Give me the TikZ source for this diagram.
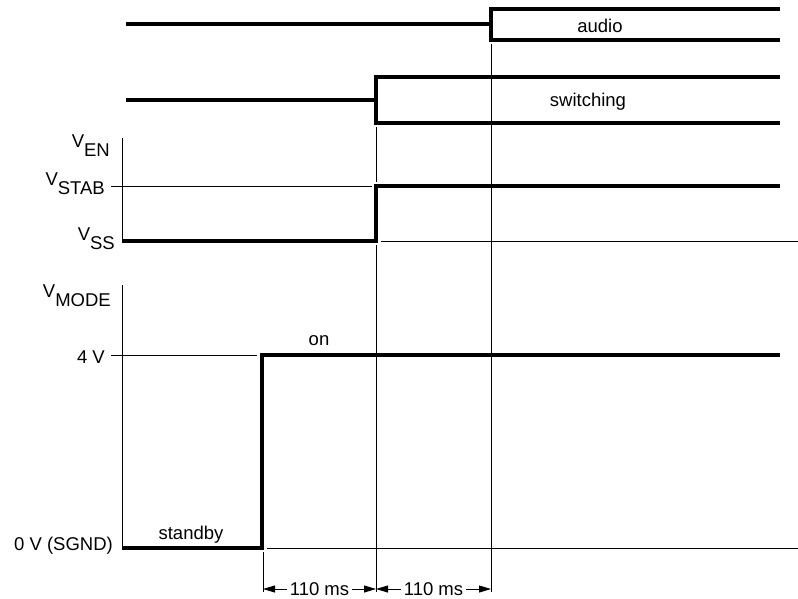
\documentclass[tikz,border=0pt]{standalone}
\usepackage{fontspec}
\setmainfont{Liberation Sans}
\usetikzlibrary{arrows.meta}
\tikzset{
  sig/.style={line width=3.2pt, line join=miter},
  hair/.style={line width=0.9pt},
  lbl/.style={inner sep=0pt, font=\fontsize{18.5}{22}\selectfont},
  dim/.style={line width=0.9pt, {Triangle[length=12pt,width=7pt]}-{Triangle[length=12pt,width=7pt]}},
}
\newcommand{\sub}[2]{#1\raisebox{-9pt}{#2}}
\begin{document}
\begin{tikzpicture}[x=1pt,y=-1pt]
\useasboundingbox (0,0) rectangle (798,598);
% audio
\draw[sig] (126,24) -- (491,24);
\draw[sig] (780,9) -- (491,9) -- (491,40) -- (780,40);
\node[lbl, anchor=base] (audio) at (600,32) {audio};
% switching
\draw[sig] (126,100) -- (376,100);
\draw[sig] (780,77) -- (376,77) -- (376,123) -- (780,123);
\node[lbl, anchor=base] (switching) at (588,106) {switching};
% time markers
\draw[hair] (491,44) -- (491,592);
\draw[hair] (376,127) -- (376,182);
\draw[hair] (376,245) -- (376,592);
\draw[hair] (263,552) -- (263,592);
% V_EN
\draw[hair] (122,138) -- (122,241);
\draw[hair] (111,186) -- (372,186);
\draw[hair] (381,241) -- (798,241);
\draw[sig] (122,241) -- (376,241) -- (376,186) -- (780,186);
\node[lbl, anchor=base east] (ven) at (110,147) {\sub{V}{EN}};
\node[lbl, anchor=base east] (vstab) at (105,185) {\sub{V}{STAB}};
\node[lbl, anchor=base east] (vss) at (115,240) {\sub{V}{SS}};
% V_MODE
\draw[hair] (122,285) -- (122,548);
\draw[hair] (111,355) -- (257,355);
\draw[hair] (267,548) -- (798,548);
\draw[sig] (122,548) -- (262,548) -- (262,355) -- (780,355);
\node[lbl, anchor=base east] (vmode) at (111,297) {\sub{V}{MODE}};
\node[lbl, anchor=base east] (v4) at (105,363) {4 V};
\node[lbl, anchor=base east] (v0) at (113,550) {0 V (SGND)};
\node[lbl, anchor=base] (on) at (319,345) {on};
\node[lbl, anchor=base] (standby) at (191,539) {standby};
% dimensions
\coordinate (d1) at (263,589);
\coordinate (d2) at (376,589);
\coordinate (d3) at (491,589);
\draw[dim] (d1) -- node[lbl, fill=white, inner xsep=3pt, inner ysep=1pt] (m1) {110 ms} (d2);
\draw[dim] (d2) -- node[lbl, fill=white, inner xsep=3pt, inner ysep=1pt] (m2) {110 ms} (d3);
\end{tikzpicture}
\end{document}
